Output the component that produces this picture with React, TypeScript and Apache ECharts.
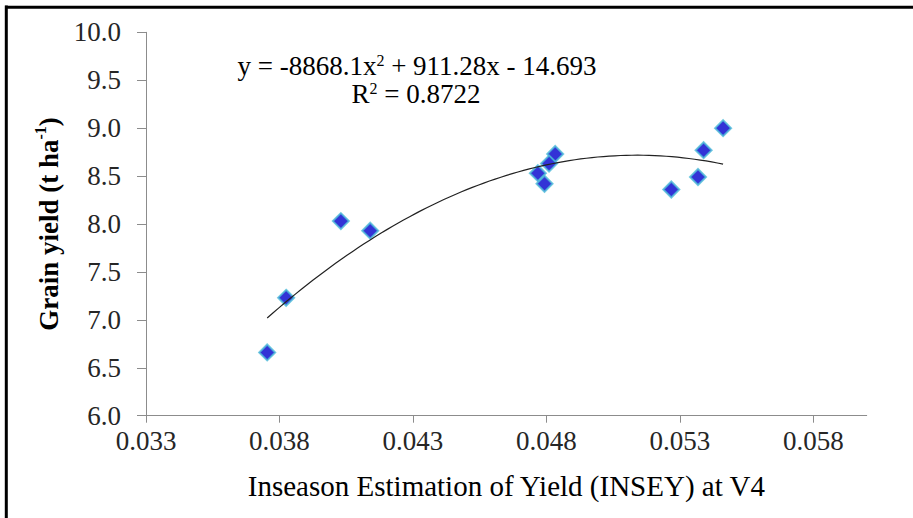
import React, { useEffect, useRef } from "react";
import * as echarts from "echarts";

// INSEY at V4 (x) and grain yield t/ha (y)
const inseyValues = [0.03754, 0.03825, 0.0403, 0.0414, 0.04833, 0.0481, 0.04768, 0.04793, 0.05268, 0.05368, 0.05389, 0.05462];
const yieldValues = [6.66, 7.23, 8.03, 7.93, 8.73, 8.63, 8.53, 8.42, 8.36, 8.49, 8.77, 9.0];

// Fitted quadratic trendline shown on the chart
const trendCoefA = -8868.1;
const trendCoefB = 911.28;
const trendCoefC = -14.693;

const xTickValues = [0.033, 0.038, 0.043, 0.048, 0.053, 0.058];

const equationText = "{a|y = -8868.1x}{s|2}{a| + 911.28x - 14.693}";
const r2Text = "{a|R}{s|2}{a| = 0.8722}";

export default function App() {
  const ref = useRef<HTMLDivElement>(null);
  useEffect(() => {
    if (!ref.current) return;
    const chart = echarts.init(ref.current, null, { renderer: "svg" });
    const pts = inseyValues.map((x, i) => [x, yieldValues[i]]);
    const xMin = Math.min(...inseyValues);
    const xMax = Math.max(...inseyValues);
    const trend: number[][] = [];
    const n = 80;
    for (let i = 0; i <= n; i++) {
      const x = xMin + ((xMax - xMin) * i) / n;
      trend.push([x, trendCoefA * x * x + trendCoefB * x + trendCoefC]);
    }
    const font = "Liberation Serif";
    const eqRich = {
      a: { fontFamily: font, fontSize: 27, color: "#000", lineHeight: 30, verticalAlign: "bottom" },
      s: { fontFamily: font, fontSize: 16, color: "#000", lineHeight: 30, verticalAlign: "top", padding: [3, 0, 0, 0] },
    };
    chart.setOption({
      animation: false,
      backgroundColor: "#ffffff",
      grid: { left: 146, top: 32.3, right: 46.3, bottom: 102.3, containLabel: false },
      xAxis: {
        type: "value",
        min: 0.033,
        max: 0.06,
        interval: 0.005,
        name: "Inseason Estimation of Yield (INSEY) at V4",
        nameLocation: "middle",
        nameGap: 56,
        nameTextStyle: { fontFamily: font, fontSize: 29, color: "#000" },
        axisLine: { show: true, lineStyle: { color: "#8c8c8c", width: 1 } },
        axisTick: { show: true, length: 7, lineStyle: { color: "#8c8c8c" }, customValues: xTickValues },
        axisLabel: {
          customValues: xTickValues,
          formatter: (v: number) => v.toFixed(3),
          fontFamily: font,
          fontSize: 27,
          color: "#262626",
          margin: 12,
        },
        splitLine: { show: false },
      },
      yAxis: {
        type: "value",
        min: 6,
        max: 10,
        interval: 0.5,
        name: "{a|Grain yield (t ha}{s|-1}{a|)}",
        nameLocation: "middle",
        nameGap: 80,
        nameRotate: 90,
        nameTextStyle: {
          rich: {
            a: { fontFamily: font, fontSize: 27, fontWeight: "bold", color: "#000", lineHeight: 30, verticalAlign: "bottom" },
            s: { fontFamily: font, fontSize: 16, fontWeight: "bold", color: "#000", lineHeight: 30, verticalAlign: "top" },
          },
        },
        axisLine: { show: true, lineStyle: { color: "#8c8c8c", width: 1 } },
        axisTick: { show: true, length: 9, lineStyle: { color: "#8c8c8c" } },
        axisLabel: {
          formatter: (v: number) => v.toFixed(1),
          fontFamily: font,
          fontSize: 27,
          color: "#262626",
          margin: 25,
        },
        splitLine: { show: false },
      },
      series: [
        {
          type: "scatter",
          data: pts,
          symbol: "diamond",
          symbolSize: 16,
          itemStyle: { color: "#0000cc", borderColor: "#4cbcd8", borderWidth: 2 },
          z: 2,
        },
        {
          type: "line",
          data: trend,
          showSymbol: false,
          smooth: false,
          lineStyle: { color: "#222222", width: 1.2 },
          z: 3,
          silent: true,
        },
      ],
      graphic: [
        { type: "line", shape: { x1: 6.3, y1: 5.5, x2: 6.3, y2: 518 }, style: { stroke: "#000", lineWidth: 3 } },
        { type: "line", shape: { x1: 5, y1: 7.3, x2: 913, y2: 7.3 }, style: { stroke: "#000", lineWidth: 3 } },
        {
          type: "text",
          x: 417,
          y: 64,
          style: { text: equationText, rich: eqRich, align: "center", verticalAlign: "middle" },
        },
        {
          type: "text",
          x: 416,
          y: 92,
          style: { text: r2Text, rich: eqRich, align: "center", verticalAlign: "middle" },
        },
      ],
    });
    return () => chart.dispose();
  }, []);
  return (
    <div
      ref={ref}
      style={{ position: "fixed", left: 0, top: 0, width: 913, height: 518, background: "#fff" }}
    />
  );
}
